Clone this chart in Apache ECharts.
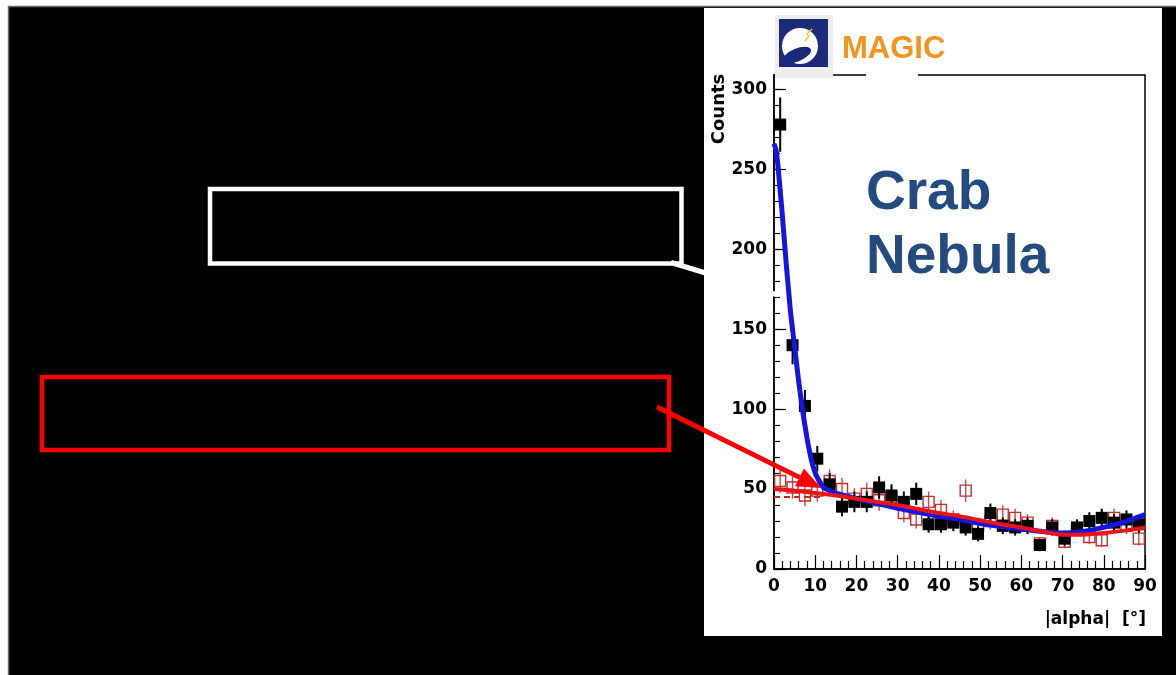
<!DOCTYPE html>
<html>
<head>
<meta charset="utf-8">
<script src="https://cdn.jsdelivr.net/npm/echarts@6/dist/echarts.min.js"></script>
<style>
  html, body { margin: 0; padding: 0; background: #ffffff; }
  #chart { width: 1176px; height: 675px; }
</style>
</head>
<body>
<div id="chart"></div>
<script>
// |alpha| histogram bins (3 degree wide), bin centres in degrees
const binCenters = [1.5, 4.5, 7.5, 10.5, 13.5, 16.5, 19.5, 22.5, 25.5, 28.5,
                    31.5, 34.5, 37.5, 40.5, 43.5, 46.5, 49.5, 52.5, 55.5, 58.5,
                    61.5, 64.5, 67.5, 70.5, 73.5, 76.5, 79.5, 82.5, 85.5, 88.5];

// ON-source counts and their errors
const onCounts = [278, 140, 102, 69, 53, 39, 42, 42, 51, 46,
                  42, 47, 28, 28, 29, 26, 22, 35, 27, 26,
                  27, 15, 26, 19, 26, 30, 32, 29, 31, 28];
const onErrors = [17, 12, 10, 8, 7, 6, 6.5, 6.5, 7, 7,
                  6.5, 7, 5.3, 5.3, 5.4, 5.1, 4.7, 5.9, 5.2, 5.1,
                  5.2, 3.9, 5.1, 4.4, 5.1, 5.5, 5.7, 5.4, 5.6, 5.3];

// OFF-source (background) counts and their errors
const offCounts = [55, 51, 46, 49, 55, 50, 44, 47, 43, 45,
                   35, 31, 42, 37, 31, 49, 27, 30, 34, 32,
                   29, 16, 27, 17, 25, 20, 18, 32, 27, 19];
const offErrors = [7.4, 7.1, 6.8, 7, 7.4, 7.1, 6.6, 6.9, 6.6, 6.7,
                   5.9, 5.6, 6.5, 6.1, 5.6, 7, 5.2, 5.5, 5.8, 5.7,
                   5.4, 4, 5.2, 4.1, 5, 4.5, 4.2, 5.7, 5.2, 4.4];

// Fitted curve to the ON data (signal peak + background)
const signalFitX = [0, 0.5, 1, 2, 3, 4, 5, 6, 7, 8, 9, 10, 11, 12, 13, 14, 15,
                    20, 25, 30, 35, 40, 45, 50, 55, 60, 65, 70, 75, 80, 85, 90];
const signalFitY = [266, 262, 251, 222, 190, 161, 139, 117, 98, 82, 69, 60, 55, 51, 49.5, 48.5, 47.5,
                    44, 41, 38, 35.5, 33, 31, 28.5, 26.5, 25, 23.5, 22.5, 23.5, 26, 29.5, 34];

// Fitted curve to the OFF data
const bgFitX = [0, 5, 10, 15, 20, 25, 30, 35, 40, 45, 50, 55, 60, 65, 70, 75, 80, 85, 90];
const bgFitY = [50, 49, 47.5, 46, 44, 42, 40, 37.5, 35, 33, 30.5, 28, 26, 23.5, 21.5, 21.5, 22.5, 24, 26];

// Background level in the signal region
const bgLevelX = [0, 12];
const bgLevelY = [45, 45];

const yMajorTicks = [0, 50, 100, 150, 200, 250, 300];

const chart = echarts.init(document.getElementById('chart'), null, { renderer: 'canvas' });

const zip = (xs, ys, es) => xs.map((x, i) => es ? [x, ys[i], es[i]] : [x, ys[i]]);

function errorBars(color, width) {
  return function (params, api) {
    const x = api.value(0), y = api.value(1), e = api.value(2);
    const top = api.coord([x, y + e]);
    const bot = api.coord([x, y - e]);
    return {
      type: 'line',
      shape: { x1: top[0], y1: top[1], x2: bot[0], y2: bot[1] },
      style: { stroke: color, lineWidth: width }
    };
  };
}

const tickFont = { fontFamily: 'DejaVu Sans', fontWeight: 'bold', fontSize: 17, color: '#000' };

// annotation arrow shape
const arrowFrom = [657, 407], arrowTo = [821, 488];
const ang = Math.atan2(arrowTo[1] - arrowFrom[1], arrowTo[0] - arrowFrom[0]);
const headLen = 24, headHalf = 10;
const hb = [arrowTo[0] - headLen * Math.cos(ang), arrowTo[1] - headLen * Math.sin(ang)];
const headPts = [
  arrowTo,
  [hb[0] + headHalf * Math.sin(ang), hb[1] - headHalf * Math.cos(ang)],
  [hb[0] - headHalf * Math.sin(ang), hb[1] + headHalf * Math.cos(ang)]
];

const option = {
  backgroundColor: '#ffffff',
  animation: false,
  grid: {
    left: 774, right: 31, top: 75, bottom: 106,
    show: true, borderColor: '#000', borderWidth: 1.5, backgroundColor: 'transparent'
  },
  xAxis: {
    type: 'value', min: 0, max: 90, interval: 10,
    axisLine: { show: true, onZero: false, lineStyle: { color: '#000', width: 1.5 } },
    axisTick: { show: true, inside: true, length: 14, lineStyle: { color: '#000', width: 1.2 } },
    minorTick: { show: true, splitNumber: 5, length: 8, lineStyle: { color: '#000', width: 1.2 } },
    axisLabel: Object.assign({ margin: 9 }, tickFont),
    splitLine: { show: false }
  },
  yAxis: [{
    type: 'value', min: 0, max: 309, interval: 50,
    axisLine: { show: true, onZero: false, lineStyle: { color: '#000', width: 1.5 } },
    axisTick: { show: true, inside: true, length: 12, lineStyle: { color: '#000', width: 1.2 } },
    axisLabel: Object.assign({
      margin: 7, showMaxLabel: false,
      formatter: v => (yMajorTicks.indexOf(v) >= 0 ? String(v) : '')
    }, tickFont),
    splitLine: { show: false }
  }, {
    type: 'value', min: 0, max: 309, interval: 10, position: 'left',
    axisLine: { show: false },
    axisTick: { show: true, inside: true, length: 6, lineStyle: { color: '#000', width: 1.2 } },
    axisLabel: { show: false },
    splitLine: { show: false }
  }],
  series: [
    {
      name: 'OFF errors', type: 'custom', z: 3,
      renderItem: errorBars('#c84848', 1.4),
      data: zip(binCenters, offCounts, offErrors)
    },
    {
      name: 'OFF', type: 'scatter', z: 4, symbol: 'rect', symbolSize: 11,
      itemStyle: { color: 'rgba(255,255,255,0)', borderColor: '#c03030', borderWidth: 1.4, opacity: 1 },
      data: zip(binCenters, offCounts)
    },
    {
      name: 'ON errors', type: 'custom', z: 5,
      renderItem: errorBars('#000', 2),
      data: zip(binCenters, onCounts, onErrors)
    },
    {
      name: 'ON', type: 'scatter', z: 6, symbol: 'rect', symbolSize: 12,
      itemStyle: { color: '#000', opacity: 1 },
      data: zip(binCenters, onCounts)
    },
    {
      name: 'background level', type: 'line', z: 7, symbol: 'none',
      lineStyle: { color: '#cc2222', width: 2, type: [6, 4] },
      data: zip(bgLevelX, bgLevelY)
    },
    {
      name: 'ON fit', type: 'line', z: 8, symbol: 'none', smooth: 0.15,
      lineStyle: { color: '#1515dd', width: 5 },
      data: zip(signalFitX, signalFitY)
    },
    {
      name: 'OFF fit', type: 'line', z: 9, symbol: 'none', smooth: 0.25,
      lineStyle: { color: '#ee1414', width: 4 },
      data: zip(bgFitX, bgFitY)
    }
  ],
  graphic: [
    // dark slide backdrop and white plot panel
    { type: 'rect', z: -20, silent: true,
      shape: { x: 8.5, y: 6.5, width: 1175, height: 675 },
      style: { fill: '#000', stroke: '#6a6a6a', lineWidth: 1.5 } },
    { type: 'rect', z: -19, silent: true,
      shape: { x: 704, y: 8, width: 458, height: 628 },
      style: { fill: '#fff' } },

    // callout boxes
    { type: 'rect', z: 100, silent: true,
      shape: { x: 210, y: 189, width: 471.5, height: 74.5 },
      style: { fill: 'none', stroke: '#fff', lineWidth: 4.5 } },
    { type: 'line', z: 100, silent: true,
      shape: { x1: 671, y1: 262.5, x2: 778, y2: 295 },
      style: { stroke: '#fff', lineWidth: 5 } },
    { type: 'rect', z: 100, silent: true,
      shape: { x: 42, y: 377, width: 627, height: 73 },
      style: { fill: 'none', stroke: '#ff0000', lineWidth: 4.5 } },
    { type: 'line', z: 101, silent: true,
      shape: { x1: arrowFrom[0], y1: arrowFrom[1], x2: hb[0], y2: hb[1] },
      style: { stroke: '#ff0000', lineWidth: 5 } },
    { type: 'polygon', z: 101, silent: true,
      shape: { points: headPts },
      style: { fill: '#ff0000' } },

    // MAGIC logo
    { type: 'rect', z: 100, silent: true,
      shape: { x: 866, y: 70, width: 52, height: 9 },
      style: { fill: '#fff' } },
    { type: 'rect', z: 100, silent: true,
      shape: { x: 775, y: 15, width: 58, height: 63 },
      style: { fill: '#ededed' } },
    { type: 'rect', z: 101, silent: true,
      shape: { x: 779, y: 19, width: 49, height: 48 },
      style: { fill: '#1c2a7a' } },
    { type: 'circle', z: 102, silent: true,
      shape: { cx: 800, cy: 46, r: 18 },
      style: { fill: '#ffffff' } },
    { type: 'circle', z: 103, silent: true,
      x: 797, y: 55, scaleX: 15, scaleY: 6.5, rotation: 0.4,
      shape: { cx: 0, cy: 0, r: 1 },
      style: { fill: '#1c2a7a' } },
    { type: 'polyline', z: 103, silent: true,
      shape: { points: [[805, 41], [809, 36], [807, 34], [812, 29]] },
      style: { stroke: '#e2cf2a', lineWidth: 1.5, fill: 'none' } },
    { type: 'text', z: 102, silent: true,
      x: 842, y: 49,
      style: { text: 'MAGIC', font: 'bold 31px "Liberation Sans"', fill: '#f2941f',
               align: 'left', verticalAlign: 'middle', textAlign: 'left', textVerticalAlign: 'middle' } },

    // source label
    { type: 'text', z: 102, silent: true,
      x: 866, y: 194,
      style: { text: 'Crab', font: 'bold 55px "Liberation Sans"', fill: '#234b80',
               align: 'left', verticalAlign: 'middle', textAlign: 'left', textVerticalAlign: 'middle' } },
    { type: 'text', z: 102, silent: true,
      x: 866, y: 258,
      style: { text: 'Nebula', font: 'bold 55px "Liberation Sans"', fill: '#234b80',
               align: 'left', verticalAlign: 'middle', textAlign: 'left', textVerticalAlign: 'middle' } },

    // axis titles
    { type: 'text', z: 102, silent: true,
      x: 719, y: 109, rotation: Math.PI / 2,
      style: { text: 'Counts', font: 'bold 18px "DejaVu Sans"', fill: '#000',
               align: 'center', verticalAlign: 'middle', textAlign: 'center', textVerticalAlign: 'middle' } },
    { type: 'text', z: 102, silent: true,
      x: 1146, y: 620,
      style: { text: '|alpha|  [°]', font: 'bold 17px "DejaVu Sans"', fill: '#000',
               align: 'right', verticalAlign: 'middle', textAlign: 'right', textVerticalAlign: 'middle' } }
  ]
};

chart.setOption(option);
</script>
</body>
</html>
